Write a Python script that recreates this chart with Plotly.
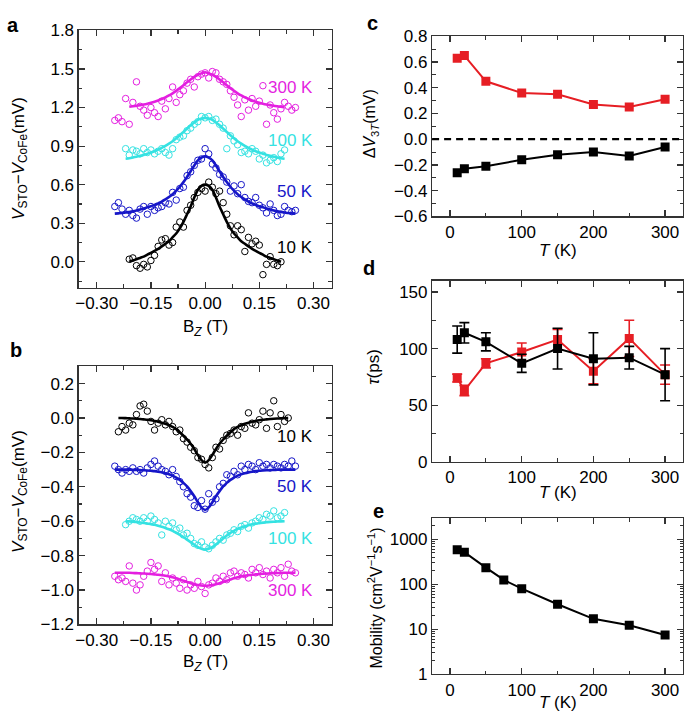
import plotly.graph_objects as go

# ---------------- panel a / b : field sweeps ----------------
B_w = [-0.25,-0.24,-0.23,-0.22,-0.21,-0.20,-0.19,-0.18,-0.17,-0.16,-0.15,-0.14,-0.13,-0.12,-0.11,-0.10,-0.09,-0.08,-0.07,-0.06,-0.05,-0.04,-0.03,-0.02,-0.01,0.00,
       0.01,0.02,0.03,0.04,0.05,0.06,0.07,0.08,0.09,0.10,0.11,0.12,0.13,0.14,0.15,0.16,0.17,0.18,0.19,0.20,0.21,0.22,0.23,0.24,0.25]
B_m = [-0.22,-0.21,-0.20,-0.19,-0.18,-0.17,-0.16,-0.15,-0.14,-0.13,-0.12,-0.11,-0.10,-0.09,-0.08,-0.07,-0.06,-0.05,-0.04,-0.03,-0.02,-0.01,0.00,
       0.01,0.02,0.03,0.04,0.05,0.06,0.07,0.08,0.09,0.10,0.11,0.12,0.13,0.14,0.15,0.16,0.17,0.18,0.19,0.20,0.21,0.22]
B_n = [-0.21,-0.20,-0.19,-0.18,-0.17,-0.16,-0.15,-0.14,-0.13,-0.12,-0.11,-0.10,-0.09,-0.08,-0.07,-0.06,-0.05,-0.04,-0.03,-0.02,-0.01,0.00,
       0.01,0.02,0.03,0.04,0.05,0.06,0.07,0.08,0.09,0.10,0.11,0.12,0.13,0.14,0.15,0.16,0.17,0.18,0.19,0.20,0.21]
B_a300_fit = [-0.21,-0.20,-0.19,-0.18,-0.17,-0.16,-0.15,-0.14,-0.13,-0.12,-0.11,-0.10,-0.09,-0.08,-0.07,-0.06,-0.05,-0.04,-0.03,-0.02,-0.01,0.00,
              0.01,0.02,0.03,0.04,0.05,0.06,0.07,0.08,0.09,0.10,0.11,0.12,0.13,0.14,0.15,0.16,0.17,0.18,0.19,0.20,0.21,0.22]
B_b10 = [-0.24,-0.23,-0.22,-0.21,-0.20,-0.19,-0.18,-0.17,-0.16,-0.15,-0.14,-0.13,-0.12,-0.11,-0.10,-0.09,-0.08,-0.07,-0.06,-0.05,-0.04,-0.03,-0.02,-0.01,0.00,
         0.01,0.02,0.03,0.04,0.05,0.06,0.07,0.08,0.09,0.10,0.11,0.12,0.13,0.14,0.15,0.16,0.17,0.18,0.19,0.20,0.21,0.22,0.23]

# panel a data (mV)
a10_pts = [0.02,0.03,-0.03,-0.05,-0.02,-0.04,0.01,0.05,0.12,0.17,0.18,0.13,0.15,0.27,0.31,0.27,0.40,0.44,0.50,0.54,0.57,0.55,
           0.62,0.58,0.53,0.55,0.46,0.37,0.28,0.21,0.28,0.25,0.08,0.19,0.14,0.16,0.13,-0.10,-0.02,0.04,-0.02,-0.03,0.00]
a10_fit = [0.00,0.01,0.02,0.03,0.04,0.055,0.07,0.085,0.10,0.12,0.14,0.16,0.19,0.22,0.26,0.31,0.37,0.43,0.50,0.56,0.59,0.60,
           0.59,0.56,0.50,0.43,0.37,0.31,0.26,0.22,0.19,0.16,0.14,0.12,0.10,0.085,0.07,0.055,0.04,0.03,0.02,0.01,0.00]
a50_pts = [0.43,0.46,0.41,0.37,0.40,0.36,0.34,0.41,0.43,0.37,0.43,0.40,0.42,0.43,0.46,0.45,0.54,0.48,0.57,0.58,0.67,0.70,0.75,0.79,0.80,0.88,
           0.84,0.76,0.73,0.68,0.66,0.62,0.55,0.59,0.53,0.60,0.50,0.47,0.46,0.50,0.44,0.42,0.38,0.45,0.40,0.36,0.37,0.43,0.40,0.39,0.40]
a50_fit = [0.375,0.377,0.379,0.384,0.388,0.393,0.399,0.406,0.415,0.424,0.433,0.442,0.455,0.468,0.486,0.504,0.526,0.553,0.584,0.620,0.660,0.704,0.749,0.789,0.811,0.820,
           0.811,0.789,0.749,0.704,0.660,0.620,0.584,0.553,0.526,0.504,0.486,0.468,0.455,0.442,0.433,0.424,0.415,0.406,0.399,0.393,0.388,0.384,0.379,0.377,0.375]
a100_pts = [0.88,0.83,0.87,0.86,0.84,0.88,0.85,0.87,0.84,0.86,0.88,0.85,0.83,0.88,0.95,0.97,0.98,1.02,1.04,1.07,1.09,1.13,1.12,
            1.13,1.10,1.11,1.07,1.04,0.88,0.98,0.94,0.91,0.85,0.86,0.84,0.88,0.86,0.80,0.83,0.77,0.79,0.81,0.78,0.84,0.87]
a100_fit = [0.802,0.805,0.811,0.818,0.824,0.831,0.841,0.850,0.860,0.873,0.886,0.902,0.919,0.938,0.961,0.984,1.010,1.036,1.062,1.084,1.104,1.115,1.120,
            1.115,1.104,1.084,1.062,1.036,1.010,0.984,0.961,0.938,0.919,0.902,0.886,0.873,0.860,0.850,0.841,0.831,0.824,0.818,0.811,0.805,0.802]
a300_pts = [1.10,1.12,1.09,1.27,1.07,1.24,1.40,1.21,1.18,1.14,1.20,1.16,1.13,1.25,1.19,1.27,1.36,1.24,1.30,1.33,1.39,1.42,1.36,1.44,1.46,1.47,
            1.43,1.48,1.47,1.42,1.40,1.38,1.33,1.28,1.22,1.13,1.26,1.18,1.27,1.21,1.25,1.37,1.07,1.22,1.16,1.11,1.19,1.24,1.21,1.18,1.20]
a300_fit = [1.206,1.210,1.214,1.219,1.224,1.230,1.237,1.245,1.255,1.266,1.279,1.294,1.311,1.330,1.351,1.373,1.396,1.418,1.438,1.455,1.466,1.475,
            1.466,1.455,1.438,1.418,1.396,1.373,1.351,1.330,1.311,1.294,1.279,1.266,1.255,1.245,1.237,1.230,1.224,1.219,1.214,1.210,1.206,1.203]

# panel b data (mV)
b10_pts = [-0.08,-0.05,-0.07,-0.03,-0.04,0.02,0.07,0.08,0.04,-0.02,-0.07,-0.03,-0.01,-0.04,-0.02,-0.05,-0.08,-0.07,-0.12,-0.14,-0.17,-0.19,-0.23,-0.24,-0.27,
           -0.29,-0.23,-0.17,-0.18,-0.13,-0.10,-0.09,-0.07,-0.10,-0.05,-0.06,0.03,-0.03,-0.04,-0.01,0.04,-0.06,0.03,0.10,-0.05,0.02,-0.02,0.00]
b10_fit = [0.0,0.0,-0.001,-0.002,-0.003,-0.004,-0.006,-0.008,-0.010,-0.013,-0.017,-0.022,-0.027,-0.034,-0.042,-0.052,-0.065,-0.083,-0.103,-0.125,-0.15,-0.18,-0.215,-0.245,-0.26,
           -0.245,-0.215,-0.18,-0.15,-0.125,-0.103,-0.083,-0.065,-0.052,-0.042,-0.034,-0.027,-0.022,-0.017,-0.013,-0.010,-0.008,-0.006,-0.004,-0.003,-0.002,-0.001,0.0]
b50_pts = [-0.28,-0.30,-0.32,-0.30,-0.31,-0.29,-0.31,-0.30,-0.32,-0.29,-0.27,-0.25,-0.28,-0.30,-0.31,-0.33,-0.30,-0.34,-0.37,-0.40,-0.44,-0.46,-0.51,-0.52,-0.48,-0.53,
           -0.44,-0.49,-0.47,-0.40,-0.38,-0.33,-0.34,-0.31,-0.33,-0.28,-0.30,-0.27,-0.28,-0.30,-0.26,-0.28,-0.27,-0.29,-0.27,-0.28,-0.29,-0.27,-0.28,-0.25,-0.28]
b50_fit = [-0.300,-0.300,-0.300,-0.300,-0.300,-0.301,-0.302,-0.303,-0.304,-0.305,-0.307,-0.309,-0.312,-0.316,-0.321,-0.327,-0.335,-0.346,-0.360,-0.377,-0.398,-0.425,-0.455,-0.490,-0.520,-0.535,
           -0.520,-0.490,-0.455,-0.425,-0.398,-0.377,-0.360,-0.346,-0.335,-0.327,-0.321,-0.316,-0.312,-0.309,-0.307,-0.305,-0.304,-0.303,-0.302,-0.301,-0.300,-0.300,-0.300,-0.300,-0.300]
b100_pts = [-0.62,-0.60,-0.58,-0.59,-0.60,-0.58,-0.60,-0.57,-0.59,-0.61,-0.68,-0.60,-0.63,-0.61,-0.65,-0.64,-0.68,-0.67,-0.70,-0.73,-0.74,-0.72,-0.75,
            -0.76,-0.74,-0.72,-0.70,-0.71,-0.68,-0.67,-0.65,-0.66,-0.63,-0.62,-0.64,-0.61,-0.60,-0.58,-0.59,-0.56,-0.57,-0.54,-0.58,-0.57,-0.55]
b100_fit = [-0.600,-0.601,-0.603,-0.605,-0.607,-0.610,-0.613,-0.617,-0.621,-0.626,-0.632,-0.639,-0.647,-0.656,-0.667,-0.679,-0.692,-0.707,-0.722,-0.737,-0.750,-0.760,-0.765,
            -0.760,-0.750,-0.735,-0.718,-0.700,-0.683,-0.668,-0.656,-0.645,-0.636,-0.629,-0.623,-0.618,-0.614,-0.611,-0.608,-0.606,-0.604,-0.603,-0.602,-0.601,-0.600]
b300_pts = [-0.92,-0.94,-0.93,-0.95,-0.86,-0.96,-1.00,-0.97,-0.92,-0.89,-0.84,-0.88,-0.86,-0.95,-0.90,-0.97,-0.93,-0.96,-0.99,-0.94,-1.00,-0.97,-0.99,-0.95,-0.98,-1.02,
            -0.97,-0.96,-0.93,-0.95,-0.92,-0.94,-0.90,-0.89,-0.92,-0.90,-0.91,-0.93,-0.88,-0.90,-0.87,-0.91,-0.89,-0.93,-0.88,-0.90,-0.87,-0.92,-0.85,-0.89,-0.90]
b300_fit = [-0.900,-0.900,-0.900,-0.900,-0.900,-0.901,-0.902,-0.903,-0.904,-0.905,-0.907,-0.909,-0.911,-0.914,-0.917,-0.921,-0.926,-0.932,-0.939,-0.946,-0.953,-0.960,-0.966,-0.971,-0.974,-0.975,
            -0.974,-0.971,-0.966,-0.960,-0.953,-0.946,-0.939,-0.932,-0.926,-0.921,-0.917,-0.914,-0.911,-0.909,-0.907,-0.905,-0.904,-0.903,-0.902,-0.901,-0.900,-0.900,-0.900,-0.900,-0.900]

# ---------------- panels c, d, e : temperature dependence ----------------
T = [10, 20, 50, 100, 150, 200, 250, 300]
dV_red = [0.63, 0.65, 0.45, 0.36, 0.35, 0.27, 0.25, 0.31]
dV_black = [-0.26, -0.23, -0.21, -0.16, -0.12, -0.10, -0.13, -0.06]
tau_black = [108, 114, 106, 87, 100, 91, 92, 77]
tau_black_err = [12, 9, 8, 8, 18, 23, 10, 23]
tau_red = [74, 63, 87, 97, 108, 80, 109, 77]
tau_red_err = [3.5, 4.5, 4, 8, 9, 11, 16, 8.5]
T_mob = [10, 20, 50, 75, 100, 150, 200, 250, 300]
mobility = [590, 520, 235, 125, 80, 36, 17, 12.3, 7.4]

temp_labels = ["10 K", "50 K", "100 K", "300 K"]
log_minor = [2, 3, 4, 5, 6, 7, 8, 9, 20, 30, 40, 50, 60, 70, 80, 90,
             200, 300, 400, 500, 600, 700, 800, 900, 2000]

MAG = "#e41fe0"
CYA = "#35e2e2"
BLU = "#1616c8"
RED = "#e61e24"
BLK = "#000000"
FONT = "Liberation Sans"
FRAME = "#333333"

fig = go.Figure()

def curve(xa, ya, bp, vp, bf, vf, color):
    fig.add_trace(go.Scatter(x=bp, y=vp, mode="markers", xaxis=xa, yaxis=ya, showlegend=False,
                             marker=dict(symbol="circle-open", size=6.5, color=color, line=dict(width=1, color=color))))
    fig.add_trace(go.Scatter(x=bf, y=vf, mode="lines", xaxis=xa, yaxis=ya, showlegend=False,
                             line=dict(color=color, width=2.6, shape="spline", smoothing=0.6)))

curve("x", "y", B_w, a300_pts, B_a300_fit, a300_fit, MAG)
curve("x", "y", B_m, a100_pts, B_m, a100_fit, CYA)
curve("x", "y", B_w, a50_pts, B_w, a50_fit, BLU)
curve("x", "y", B_n, a10_pts, B_n, a10_fit, BLK)

curve("x2", "y2", B_b10, b10_pts, B_b10, b10_fit, BLK)
curve("x2", "y2", B_w, b50_pts, B_w, b50_fit, BLU)
curve("x2", "y2", B_m, b100_pts, B_m, b100_fit, CYA)
curve("x2", "y2", B_w, b300_pts, B_w, b300_fit, MAG)

# panel c
fig.add_shape(type="line", xref="x3 domain", yref="y3", x0=0, x1=1, y0=0, y1=0,
              line=dict(color="black", width=2.2, dash="7px,5px"))
fig.add_trace(go.Scatter(x=T, y=dV_red, mode="lines+markers", xaxis="x3", yaxis="y3", showlegend=False,
                         line=dict(color=RED, width=2), marker=dict(symbol="square", size=9, color=RED)))
fig.add_trace(go.Scatter(x=T, y=dV_black, mode="lines+markers", xaxis="x3", yaxis="y3", showlegend=False,
                         line=dict(color=BLK, width=2), marker=dict(symbol="square", size=9, color=BLK)))

# panel d
fig.add_trace(go.Scatter(x=T, y=tau_red, mode="lines+markers", xaxis="x4", yaxis="y4", showlegend=False,
                         line=dict(color=RED, width=2), marker=dict(symbol="square", size=9, color=RED),
                         error_y=dict(type="data", array=tau_red_err, color=RED, thickness=1.6, width=5)))
fig.add_trace(go.Scatter(x=T, y=tau_black, mode="lines+markers", xaxis="x4", yaxis="y4", showlegend=False,
                         line=dict(color=BLK, width=2), marker=dict(symbol="square", size=9, color=BLK),
                         error_y=dict(type="data", array=tau_black_err, color=BLK, thickness=1.6, width=5)))

# panel e
fig.add_trace(go.Scatter(x=T_mob, y=mobility, mode="lines+markers", xaxis="x5", yaxis="y5", showlegend=False,
                         line=dict(color=BLK, width=2), marker=dict(symbol="square", size=9, color=BLK)))

W, H = 685, 725
def dx(p0, p1):
    return [p0 / W, p1 / W]
def dy(top, bottom):
    return [1 - bottom / H, 1 - top / H]

tickfont = dict(family=FONT, size=17, color="black")
def ax(**kw):
    base = dict(showline=True, mirror="ticks", linecolor=FRAME, linewidth=1.2, ticks="inside", ticklen=6,
                tickwidth=1.2, tickcolor=FRAME, showgrid=False, zeroline=False, tickfont=tickfont)
    base.update(kw)
    return base

bx_ticks = dict(tickvals=[-0.3, -0.15, 0, 0.15, 0.3], ticktext=["\u22120.30", "\u22120.15", "0.00", "0.15", "0.30"])
def minor_in(d):
    return dict(dtick=d, ticks="inside", ticklen=3.5, tickwidth=1.1, tickcolor=FRAME, showgrid=False)

fig.update_layout(
    width=W, height=H, margin=dict(l=0, r=0, t=0, b=0), autosize=False,
    paper_bgcolor="white", plot_bgcolor="white", showlegend=False,
    xaxis=ax(domain=dx(76, 330), range=[-0.35, 0.35], anchor="y", minor=minor_in(0.075), **bx_ticks),
    yaxis=ax(domain=dy(22, 286), range=[-0.2, 1.8], anchor="x", dtick=0.3, tick0=0, tickformat=".1f", minor=minor_in(0.15)),
    xaxis2=ax(domain=dx(76, 330), range=[-0.35, 0.35], anchor="y2", minor=minor_in(0.075), **bx_ticks),
    yaxis2=ax(domain=dy(367, 632), range=[-1.2, 0.3], anchor="x2", dtick=0.2, tick0=0, tickformat=".1f", minor=minor_in(0.1)),
    xaxis3=ax(domain=dx(431, 683), range=[-25, 325], anchor="y3", dtick=100, tick0=0, minor=minor_in(50)),
    yaxis3=ax(domain=dy(28, 213), range=[-0.6, 0.8], anchor="x3", dtick=0.2, tick0=0, tickformat=".1f", minor=minor_in(0.1)),
    xaxis4=ax(domain=dx(431, 683), range=[-25, 325], anchor="y4", dtick=100, tick0=0, minor=minor_in(50)),
    yaxis4=ax(domain=dy(279, 465), range=[0, 160], anchor="x4", dtick=50, tick0=0, minor=minor_in(25)),
    xaxis5=ax(domain=dx(431, 683), range=[-25, 325], anchor="y5", dtick=100, tick0=0, minor=minor_in(50)),
    yaxis5=ax(domain=dy(523, 683), type="log", range=[0, 3.47], anchor="x5", tickvals=[1, 10, 100, 1000],
              ticktext=["1", "10", "100", "1000"],
              minor=dict(tickvals=log_minor, ticks="inside", ticklen=3, tickwidth=1, tickcolor=FRAME, showgrid=False)),
)

ann = []
def text(x, y, s, size=17, angle=0, bold=False, xanchor="center", yanchor="middle", color="black", xref="paper", yref="paper"):
    ann.append(dict(x=x, y=y, xref=xref, yref=yref, text=(f"<b>{s}</b>" if bold else s), showarrow=False,
                    textangle=angle, xanchor=xanchor, yanchor=yanchor,
                    font=dict(family=FONT, size=size, color=color)))

# panel letters
text(10 / W, 1 - 16 / H, "a", size=20, bold=True)
text(13 / W, 1 - 350 / H, "b", size=20, bold=True)
text(371 / W, 1 - 14 / H, "c", size=20, bold=True)
text(368 / W, 1 - 266 / H, "d", size=20, bold=True)
text(377 / W, 1 - 515 / H, "e", size=20, bold=True)

# axis titles
vlab = "<i>V</i><sub>STO</sub>\u2212<i>V</i><sub>CoFe</sub>(mV)"
text(17 / W, 1 - 153 / H, vlab, angle=-90)
text(17 / W, 1 - 495 / H, vlab, angle=-90)
text(203 / W, 1 - 328 / H, "B<sub><i>Z</i></sub> (T)")
text(203 / W, 1 - 672 / H, "B<sub><i>Z</i></sub> (T)")
text(370 / W, 1 - 118 / H, "\u0394<i>V</i><sub>3<i>T</i></sub>(mV)", size=16, angle=-90)
text(372 / W, 1 - 367 / H, "<i>\u03c4</i>(ps)", size=17, angle=-90)
text(374 / W, 1 - 605 / H, "Mobility (cm<sup>2</sup>V<sup>\u22121</sup>s<sup>\u22121</sup>)", size=16, angle=-90)
text(557 / W, 1 - 248 / H, "<i>T</i> (K)")
text(557 / W, 1 - 497 / H, "<i>T</i> (K)")
text(557 / W, 1 / H, "<i>T</i> (K)", yanchor="bottom")

# temperature labels
a_cols = [BLK, BLU, CYA, MAG]
a_pos = [0.114, 0.548, 0.944, 1.355]
b_pos = [-0.108, -0.396, -0.70, -1.005]
for lab, c, ya_, yb_ in zip(temp_labels, a_cols, a_pos, b_pos):
    text(0.305, ya_, lab, xanchor="right", color=c, xref="x", yref="y")
    text(0.305, yb_, lab, xanchor="right", color=c, xref="x2", yref="y2")

fig.update_layout(annotations=ann)
fig.write_html("out.html", config={"responsive": False, "displayModeBar": False, "staticPlot": True},
               post_script="document.body.style.margin='0px';document.body.style.overflow='hidden';")
